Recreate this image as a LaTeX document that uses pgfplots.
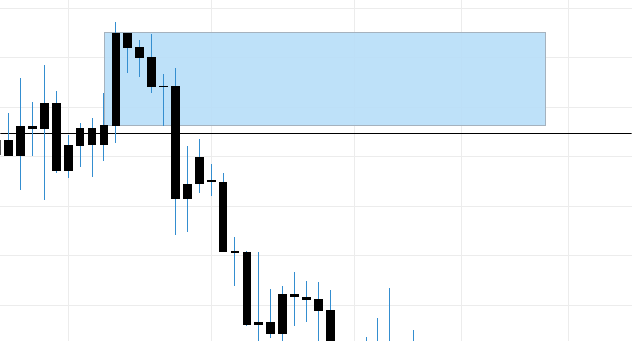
\documentclass[border=0pt]{standalone}
\usepackage{pgfplots}
\usepackage{pgfplotstable}
\pgfplotsset{compat=1.18}
\definecolor{wickblue}{RGB}{52,142,208}
\definecolor{zonefill}{RGB}{185,222,249}
\definecolor{zoneedge}{RGB}{165,178,190}
\definecolor{gridgray}{RGB}{236,236,236}
\pgfplotstableread{
i  o      h      l      c
-1 133.33 135.35 129.29 130.40
0  130.10 138.79 130.10 133.33
1  130.10 145.92 123.23 136.16
2  136.16 141.07 130.10 135.62
3  135.62 148.49 121.21 140.87
4  140.87 143.29 126.61 127.13
5  127.13 134.34 125.60 132.32
6  132.18 136.83 127.94 135.76
7  135.76 137.84 125.92 132.38
8  132.38 142.89 129.15 136.36
9  136.22 157.23 132.79 155.01
10 155.01 155.01 146.93 151.98
11 152.12 153.54 146.12 149.96
12 150.10 154.75 142.89 144.10
13 144.40 146.67 136.22 144.20
14 144.38 148.02 114.08 121.48
15 121.48 132.12 114.81 124.44
16 124.44 133.54 122.69 129.96
17 125.25 128.49 122.08 124.79
18 124.85 126.73 110.71 110.71
19 110.91 113.68 103.90 110.71
20 110.71 110.97 95.82  96.02
21 96.51  110.71 91.92  96.02
22 96.57  103.23 93.39  94.20
23 94.20  103.90 91.92  102.22
24 102.22 106.67 95.82  101.56
25 101.62 104.85 96.63  101.07
26 101.21 104.65 91.92  98.85
27 98.99  103.03 86.87  88.89
28 90.91  91.92  82.83  84.85
29 89.90  90.91  81.82  83.84
30 91.92  93.60  85.86  86.87
31 88.89  97.43  86.87  91.92
32 88.89  103.43 86.87  91.92
33 90.91  91.92  86.87  88.89
34 89.90  94.95  87.88  91.92
}\candles
\begin{document}
\begin{tikzpicture}
\begin{axis}[
  width=632pt, height=341pt, scale only axis,
  xmin=-0.696, xmax=52.30, ymin=92.73, ymax=161.62,
  axis line style={draw=none},
  xtick={5,17,29,38,47}, ytick={100,110,...,160},
  xmajorticks=false, ymajorticks=false,
  grid=major,
  major grid style={color=gridgray, line width=0.8pt},
  clip=true,
]
\addplot[fill=zonefill, draw=zoneedge, line width=0.9pt, fill opacity=0.92]
  coordinates {(8.07,136.30) (45.06,136.30) (45.06,155.09) (8.07,155.09)} -- cycle;
\addplot[black, line width=1.1pt, mark=none] coordinates {(-1,134.71) (53,134.71)};
\addplot[draw=none, mark=none,
  error bars/.cd, y dir=both, y explicit, error mark=none,
  error bar style={draw=wickblue, line width=1pt}]
  table[x=i, y expr={(\thisrow{h}+\thisrow{l})/2}, y error expr={(\thisrow{h}-\thisrow{l})/2}] {\candles};
\addplot[draw=none, mark=none,
  error bars/.cd, y dir=both, y explicit, error mark=none,
  error bar style={draw=black, line width=8.7pt}]
  table[x=i, y expr={(\thisrow{o}+\thisrow{c})/2}, y error expr={abs(\thisrow{o}-\thisrow{c})/2}] {\candles};
\end{axis}
\end{tikzpicture}
\end{document}
